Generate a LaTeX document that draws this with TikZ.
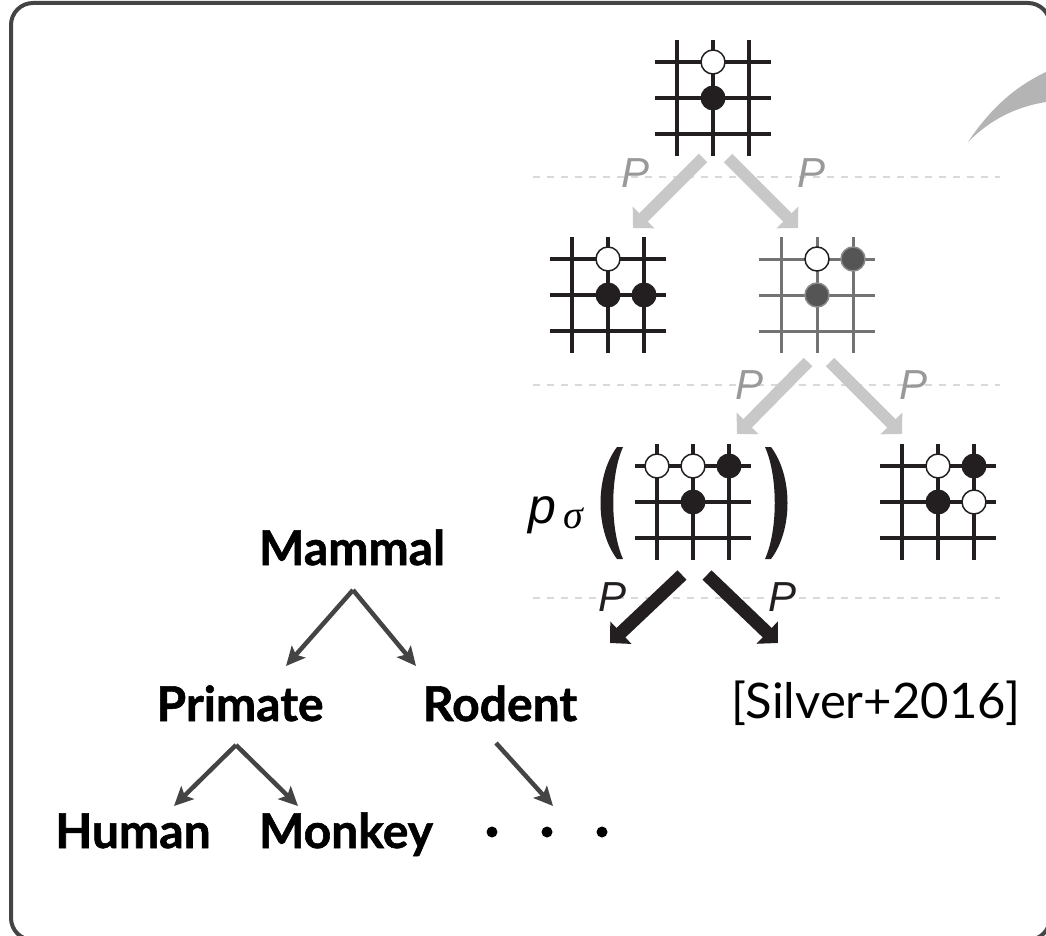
\documentclass[tikz,border=0pt]{standalone}
\usepackage{fontspec}
\setmainfont{Lato}
\newfontfamily\helv{Liberation Sans}
\newfontfamily\greekserif{Liberation Serif}
\newfontfamily\treefont{Lato}[BoldFeatures={FakeBold=1.2}]
\usetikzlibrary{arrows.meta,calc}

\definecolor{ink}{HTML}{231F20}
\definecolor{framegray}{HTML}{444444}
\definecolor{treegray}{HTML}{444444}
\definecolor{arrowlight}{HTML}{C8C8C8}
\definecolor{labelgray}{HTML}{999999}
\definecolor{dashgray}{HTML}{D9D9D9}
\definecolor{gridmid}{HTML}{737373}
\definecolor{stonemid}{HTML}{555555}
\definecolor{stoneedge}{HTML}{8A8A8A}
\definecolor{swoosh}{HTML}{B4B4B4}

% 3x3 go grid centred at (#1,#2), lines 36 apart, drawn with style #3
\newcommand\boardgrid[3]{%
  \foreach \d in {0,36,72} {
    \draw[#3] (#1-36+\d, #2-58) -- (#1-36+\d, #2+58);
    \draw[#3] (#1-58, #2-36+\d) -- (#1+58, #2-36+\d);
  }}

\begin{document}
\begin{tikzpicture}[x=1pt,y=-1pt,
  frame/.style={draw=framegray, line width=4pt, rounded corners=22pt},
  boardbox/.style={minimum width=116pt, minimum height=116pt, inner sep=0pt, draw=none},
  gridline/.style={line width=4pt, color=ink},
  gridthin/.style={line width=3pt, color=gridmid},
  wstone/.style={fill=white, draw=ink, line width=1.5pt},
  bstone/.style={fill=ink},
  gstone/.style={fill=stonemid, draw=stoneedge, line width=1.5pt},
  levelline/.style={draw=dashgray, line width=1.5pt, dash pattern=on 7pt off 7pt},
  movearrow/.style={line width=12pt, -{Triangle[length=15pt,width=30pt]}},
  lightmove/.style={movearrow, draw=arrowlight},
  darkmove/.style={movearrow, draw=ink, line width=13pt},
  plabel/.style={font=\helv\itshape\fontsize{42}{46}\selectfont, inner sep=0pt},
  treelabel/.style={font=\treefont\bfseries\fontsize{48}{54}\selectfont, inner sep=0pt, anchor=base},
  treearrow/.style={draw=treegray, line width=4.5pt, -{Stealth[length=19pt,width=18pt,inset=4pt]}},
]
\useasboundingbox (0,0) rectangle (1046,936);

% outer frame
\draw[frame] (11,3) rectangle (1050,940);

% swoosh at the upper right edge
\fill[swoosh] (968,142) .. controls (988,112) and (1012,88) .. (1046,72)
  -- (1046,102) .. controls (1015,107) and (990,120) .. (968,142) -- cycle;

% dashed level separators
\coordinate (l1a) at (533,177); \coordinate (l1b) at (1000,177);
\coordinate (l2a) at (533,385); \coordinate (l2b) at (1000,385);
\coordinate (l3a) at (533,598); \coordinate (l3b) at (1000,598);
\draw[levelline] (l1a) -- (l1b);
\draw[levelline] (l2a) -- (l2b);
\draw[levelline] (l3a) -- (l3b);

% board positions
\node[boardbox] (b0) at (713,98) {};
\node[boardbox] (b1) at (608,295) {};
\node[boardbox] (b2) at (817,295) {};
\node[boardbox] (b3) at (693,502) {};
\node[boardbox] (b4) at (938,502) {};

% root board
\boardgrid{713}{98}{gridline}
\filldraw[wstone] (713,62) circle[radius=12];
\fill[bstone] (713,98) circle[radius=12.5];

% first-level children
\boardgrid{608}{295}{gridline}
\filldraw[wstone] (608,259) circle[radius=12];
\fill[bstone] (608,295) circle[radius=12.5];
\fill[bstone] (644,295) circle[radius=12.5];

\boardgrid{817}{295}{gridthin}
\filldraw[wstone] (817,259) circle[radius=12];
\filldraw[gstone] (853,259) circle[radius=12];
\filldraw[gstone] (817,295) circle[radius=12];

% second-level children
\boardgrid{693}{502}{gridline}
\filldraw[wstone] (657,466) circle[radius=12];
\filldraw[wstone] (693,466) circle[radius=12];
\fill[bstone] (729,466) circle[radius=12.5];
\fill[bstone] (693,502) circle[radius=12.5];

\boardgrid{938}{502}{gridline}
\filldraw[wstone] (938,466) circle[radius=12];
\fill[bstone] (974,466) circle[radius=12.5];
\fill[bstone] (938,502) circle[radius=12.5];
\filldraw[wstone] (974,502) circle[radius=12];

% policy notation around the selected board
\node[font=\helv\itshape\fontsize{50}{56}\selectfont, inner sep=0pt, anchor=base west] (pp) at (528,523) {p};
\node[font=\greekserif\itshape\fontsize{40}{44}\selectfont, inner sep=0pt, anchor=base west] (ps) at (563,528) {σ};
\fill[ink] (617,447) .. controls (595,476) and (595,530) .. (617,559)
  -- (623,559) .. controls (610,530) and (610,476) .. (623,447) -- cycle;
\fill[ink] (771,447) .. controls (793,476) and (793,530) .. (771,559)
  -- (765,559) .. controls (778,530) and (778,476) .. (765,447) -- cycle;

% move arrows
\coordinate (a1s) at (703,158); \coordinate (a1t) at (633,228);
\coordinate (a2s) at (728,158); \coordinate (a2t) at (798,228);
\coordinate (a3s) at (808,362); \coordinate (a3t) at (737,434);
\coordinate (a4s) at (830,362); \coordinate (a4t) at (902,434);
\coordinate (a5s) at (682,575); \coordinate (a5t) at (610,643);
\coordinate (a6s) at (707,575); \coordinate (a6t) at (778,643);
\draw[lightmove] (a1s) -- (a1t);
\draw[lightmove] (a2s) -- (a2t);
\draw[lightmove] (a3s) -- (a3t);
\draw[lightmove] (a4s) -- (a4t);
\draw[darkmove] (a5s) -- (a5t);
\draw[darkmove] (a6s) -- (a6t);

% move labels
\node[plabel, text=labelgray] (p1) at (635,173) {P};
\node[plabel, text=labelgray] (p2) at (811,173) {P};
\node[plabel, text=labelgray] (p3) at (749,385) {P};
\node[plabel, text=labelgray] (p4) at (913,385) {P};
\node[plabel, text=ink] (p5) at (612,597) {P};
\node[plabel, text=ink] (p6) at (782,597) {P};

% citation
\node[font=\fontsize{49}{56}\selectfont, inner sep=0pt, anchor=base] (cite) at (876,718) {[Silver+2016]};

% taxonomy tree
\node[treelabel] (mammal) at (352,565) {Mammal};
\node[treelabel] (primate) at (240,721) {Primate};
\node[treelabel] (rodent) at (500,721) {Rodent};
\node[treelabel] (human) at (133,848) {Human};
\node[treelabel] (monkey) at (346,848) {Monkey};
\node[inner sep=0pt, minimum width=120pt] (dots) at (547,832) {};
\fill[black] (492,832) circle[radius=5.5];
\fill[black] (547,832) circle[radius=5.5];
\fill[black] (602,832) circle[radius=5.5];

\coordinate (mfork) at (353,590);
\coordinate (pfork) at (236,745);
\coordinate (rstart) at (496,743);
\coordinate (tprim) at (286,666);
\coordinate (trod) at (416,666);
\coordinate (thum) at (174,806);
\coordinate (tmon) at (298,806);
\coordinate (tdots) at (553,806);
\draw[treearrow] (mfork) -- (tprim);
\draw[treearrow] (mfork) -- (trod);
\draw[treearrow] (pfork) -- (thum);
\draw[treearrow] (pfork) -- (tmon);
\draw[treearrow] (rstart) -- (tdots);
\end{tikzpicture}
\end{document}
